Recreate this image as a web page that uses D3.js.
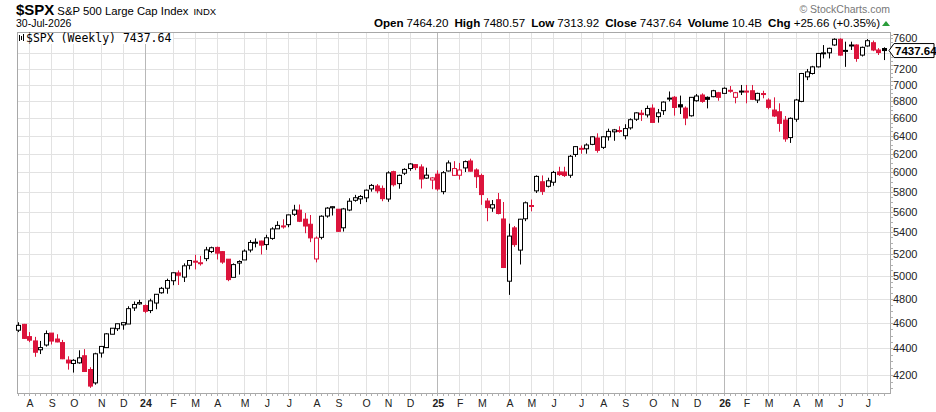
<!DOCTYPE html>
<html>
<head>
<meta charset="utf-8">
<script src="https://cdn.jsdelivr.net/npm/d3@7"></script>
<style>
  html, body { margin: 0; padding: 0; background: #fff; }
  svg { display: block; font-family: "Liberation Sans", Arial, sans-serif; }
</style>
</head>
<body>
<svg id="svg" width="936" height="412"></svg>
<script>
// weekly bars, Monday of each week, 24-Jul-2023 .. 27-Jul-2026
var weeks = d3.timeMonday.range(new Date(2023, 6, 24), new Date(2026, 6, 28));

var opens = [
  4543, 4590, 4492, 4458, 4389, 4426, 4520, 4473, 4445, 4310, 4284, 4289, 4343, 4239, 4140, 4364,
  4406, 4511, 4555, 4586, 4593, 4725, 4759, 4745, 4703, 4766, 4853, 4892, 4957, 5026, 4989, 5094,
  5131, 5111, 5154, 5219, 5257, 5218, 5149, 4987, 5114, 5142, 5233, 5305, 5316, 5283, 5341, 5432,
  5460, 5472, 5573, 5614, 5525, 5476, 5151, 5351, 5556, 5637, 5623, 5442, 5615, 5712, 5726, 5737,
  5828, 5858, 5833, 5725, 6008, 5883, 5992, 6041, 6083, 6058, 5940, 5920, 5982, 5800, 6015, 5969,
  5970, 6048, 6122, 6026, 5968, 5705, 5635, 5718, 5527, 4953, 5441, 5232, 5529, 5655, 5808, 5902,
  5855, 5897, 6005, 6004, 5970, 6193, 6259, 6255, 6304, 6375, 6271, 6389, 6445, 6457, 6401, 6490,
  6590, 6660, 6640, 6720, 6620, 6690, 6830, 6850, 6760, 6720, 6630, 6808, 6877, 6849, 6857, 6905,
  6897, 6935, 6849, 6920, 6925, 6929, 6816, 6895, 6816, 6697, 6677, 6580, 6380, 6590, 6800, 7101,
  7143, 7227, 7395, 7408, 7511, 7587, 7430, 7505, 7511, 7378, 7498, 7541, 7445, 7464.20
];
var highs = [
  4607, 4594, 4528, 4490, 4458, 4541, 4520, 4511, 4466, 4339, 4317, 4385, 4394, 4256, 4366, 4415,
  4520, 4560, 4595, 4609, 4739, 4779, 4793, 4754, 4802, 4842, 4903, 4975, 5030, 5048, 5111, 5140,
  5189, 5179, 5262, 5264, 5264, 5222, 5150, 5111, 5139, 5239, 5325, 5341, 5320, 5375, 5447, 5505,
  5524, 5570, 5667, 5670, 5585, 5566, 5360, 5563, 5644, 5651, 5623, 5636, 5733, 5767, 5765, 5822,
  5879, 5878, 5863, 6012, 6018, 5977, 6044, 6099, 6089, 6086, 6050, 5950, 6022, 6014, 6128, 6120,
  6101, 6127, 6147, 6043, 5987, 5734, 5715, 5786, 5695, 5482, 5459, 5528, 5700, 5720, 5969, 5968,
  5944, 6016, 6060, 6060, 6187, 6284, 6291, 6315, 6395, 6428, 6395, 6481, 6478, 6508, 6532, 6600,
  6671, 6699, 6750, 6765, 6710, 6800, 6920, 6865, 6870, 6740, 6850, 6889, 6897, 6860, 6940, 6915,
  6970, 6987, 6915, 7000, 7000, 7000, 6905, 6929, 6837, 6849, 6777, 6627, 6610, 6830, 7150, 7200,
  7240, 7405, 7510, 7475, 7600, 7600, 7555, 7555, 7520, 7490, 7590, 7570, 7470, 7480.57
];
var lows = [
  4528, 4474, 4448, 4335, 4356, 4414, 4430, 4447, 4317, 4238, 4216, 4283, 4223, 4104, 4127, 4329,
  4406, 4511, 4537, 4547, 4593, 4700, 4751, 4682, 4682, 4714, 4845, 4845, 4918, 4920, 4946, 5057,
  5057, 5091, 5131, 5204, 5146, 5107, 4953, 4987, 5011, 5142, 5211, 5257, 5192, 5234, 5328, 5431,
  5434, 5447, 5557, 5497, 5390, 5306, 5120, 5332, 5540, 5561, 5402, 5406, 5604, 5698, 5674, 5694,
  5800, 5783, 5703, 5697, 5853, 5830, 5972, 6017, 6024, 5832, 5932, 5825, 5809, 5773, 6010, 5962,
  5924, 6004, 6009, 5837, 5667, 5505, 5597, 5572, 5069, 4835, 5262, 5101, 5506, 5602, 5786, 5767,
  5843, 5861, 5963, 5952, 5943, 6167, 6201, 6201, 6295, 6212, 6253, 6346, 6344, 6434, 6360, 6470,
  6570, 6570, 6610, 6550, 6550, 6640, 6800, 6631, 6650, 6521, 6620, 6796, 6784, 6717, 6850, 6808,
  6890, 6905, 6777, 6877, 6777, 6816, 6780, 6837, 6706, 6615, 6446, 6333, 6320, 6560, 6790, 7060,
  7130, 7220, 7335, 7335, 7500, 7370, 7227, 7445, 7292, 7360, 7490, 7430, 7380, 7313.92
];
var closes = [
  4582, 4478, 4464, 4370, 4406, 4516, 4457, 4450, 4320, 4288, 4308, 4327, 4224, 4117, 4358, 4415,
  4514, 4559, 4595, 4604, 4719, 4754, 4770, 4697, 4784, 4840, 4891, 4959, 5027, 5005, 5089, 5137,
  5124, 5117, 5234, 5254, 5204, 5123, 4967, 5100, 5128, 5223, 5303, 5305, 5278, 5347, 5431, 5465,
  5460, 5567, 5615, 5505, 5459, 5346, 5344, 5554, 5634, 5648, 5408, 5626, 5703, 5738, 5751, 5815,
  5864, 5808, 5729, 5995, 5871, 5969, 6032, 6090, 6051, 5931, 5971, 5942, 5827, 5997, 6101, 6041,
  6026, 6115, 6013, 5955, 5770, 5639, 5668, 5581, 5074, 5363, 5283, 5525, 5687, 5660, 5958, 5803,
  5912, 6000, 5977, 5967, 6173, 6279, 6260, 6297, 6389, 6238, 6389, 6450, 6467, 6460, 6482, 6584,
  6664, 6644, 6716, 6553, 6664, 6792, 6840, 6728, 6734, 6603, 6849, 6865, 6800, 6825, 6929, 6849,
  6959, 6929, 6905, 6925, 6915, 6825, 6897, 6885, 6729, 6627, 6542, 6365, 6600, 6817, 7143, 7163,
  7227, 7400, 7408, 7467, 7587, 7378, 7440, 7511, 7335, 7480, 7568, 7445, 7412, 7437.64
];

var yTicks = [4200, 4400, 4600, 4800, 5000, 5200, 5400, 5600, 5800, 6000, 6200, 6400, 6600, 6800, 7000, 7200, 7400, 7600];
var monthLetters = ['J', 'F', 'M', 'A', 'M', 'J', 'J', 'A', 'S', 'O', 'N', 'D'];

var headerItems = [
  ['Open', '7464.20'], ['High', '7480.57'], ['Low', '7313.92'],
  ['Close', '7437.64'], ['Volume', '10.4B'], ['Chg', '+25.66 (+0.35%)']
];

var red = '#dc143c';
var plot = {left: 17, right: 890, top: 32, bottom: 393};

var svg = d3.select('#svg');

var x = d3.scaleLinear()
    .domain([-0.2, weeks.length + 0.1])
    .range([plot.left, plot.right]);
var y = d3.scaleLog()
    .domain([4067, 7685])
    .range([plot.bottom, plot.top]);

// month starts = first weekly bar whose Monday falls in a new month
var monthStarts = [];
weeks.forEach(function(d, i) {
    if (i > 0 && d.getMonth() !== weeks[i - 1].getMonth()) {
        monthStarts.push({i: i, date: d});
    }
});

// grid
var grid = svg.append('g').attr('class', 'grid');
grid.selectAll('line.h')
    .data(yTicks)
    .enter().append('line')
    .attr('x1', plot.left).attr('x2', plot.right)
    .attr('y1', function(d) { return Math.round(y(d)) + 0.5; })
    .attr('y2', function(d) { return Math.round(y(d)) + 0.5; })
    .attr('stroke', '#e2e2e2');
grid.selectAll('line.v')
    .data(monthStarts)
    .enter().append('line')
    .attr('y1', plot.top).attr('y2', plot.bottom)
    .attr('x1', function(d) { return Math.round(x(d.i)) + 0.5; })
    .attr('x2', function(d) { return Math.round(x(d.i)) + 0.5; })
    .attr('stroke', function(d) { return d.date.getMonth() === 0 ? '#b8b8b8' : '#e2e2e2'; });

// frame
svg.append('rect')
    .attr('x', plot.left + 0.5).attr('y', plot.top + 0.5)
    .attr('width', plot.right - plot.left).attr('height', plot.bottom - plot.top)
    .attr('fill', 'none').attr('stroke', '#a8a8a8');

// minor ticks, right axis and bottom axis
var minorY = d3.range(4100, 7700, 50);
svg.append('g').selectAll('line')
    .data(minorY)
    .enter().append('line')
    .attr('x1', plot.right + 0.5).attr('x2', plot.right + 3)
    .attr('y1', function(d) { return Math.round(y(d)) + 0.5; })
    .attr('y2', function(d) { return Math.round(y(d)) + 0.5; })
    .attr('stroke', '#b0b0b0');
svg.append('g').selectAll('line')
    .data(weeks)
    .enter().append('line')
    .attr('x1', function(d, i) { return Math.round(x(i)) + 0.5; })
    .attr('x2', function(d, i) { return Math.round(x(i)) + 0.5; })
    .attr('y1', plot.bottom + 0.5).attr('y2', plot.bottom + 3)
    .attr('stroke', '#b0b0b0');

// candles
var bars = weeks.map(function(d, i) {
    var prev = i > 0 ? closes[i - 1] : opens[i];
    return {
        i: i, o: opens[i], h: highs[i], l: lows[i], c: closes[i],
        color: closes[i] >= prev ? '#000' : red,
        hollow: closes[i] >= opens[i]
    };
});

var candles = svg.append('g').attr('class', 'candles')
    .selectAll('g')
    .data(bars)
    .enter().append('g');

candles.append('line')
    .attr('x1', function(d) { return Math.round(x(d.i)) + 0.5; })
    .attr('x2', function(d) { return Math.round(x(d.i)) + 0.5; })
    .attr('y1', function(d) { return y(d.h); })
    .attr('y2', function(d) { return y(d.l); })
    .attr('stroke', function(d) { return d.color; });

candles.append('rect')
    .attr('x', function(d) { return Math.round(x(d.i)) - 1.5; })
    .attr('width', 4)
    .attr('y', function(d) { return y(Math.max(d.o, d.c)); })
    .attr('height', function(d) { return Math.max(1, Math.abs(y(d.o) - y(d.c))); })
    .attr('fill', function(d) { return d.hollow ? '#fff' : d.color; })
    .attr('stroke', function(d) { return d.color; })
    .attr('stroke-width', 1);

// y labels
svg.append('g').selectAll('text')
    .data(yTicks.filter(function(d) { return d !== 7400; }))
    .enter().append('text')
    .attr('x', plot.right + 3)
    .attr('y', function(d) { return y(d) + 4; })
    .attr('font-size', 11)
    .attr('fill', '#222')
    .text(function(d) { return d; });

// x labels
svg.append('g').selectAll('text')
    .data(monthStarts)
    .enter().append('text')
    .attr('x', function(d) { return x(d.i) + 1; })
    .attr('y', 407)
    .attr('text-anchor', 'middle')
    .attr('font-size', 10.5)
    .attr('font-weight', function(d) { return d.date.getMonth() === 0 ? 'bold' : 'normal'; })
    .attr('fill', '#222')
    .text(function(d) {
        return d.date.getMonth() === 0 ? d3.timeFormat('%y')(d.date) : monthLetters[d.date.getMonth()];
    });

// last price marker
var lastY = y(closes[closes.length - 1]);
svg.append('path')
    .attr('d', 'M' + (plot.right - 1) + ',' + lastY +
        'L' + (plot.right + 4) + ',' + (lastY - 7) +
        'L934,' + (lastY - 7) + 'L934,' + (lastY + 7) +
        'L' + (plot.right + 4) + ',' + (lastY + 7) + 'Z')
    .attr('fill', '#fff').attr('stroke', '#000');
svg.append('text')
    .attr('x', plot.right + 5).attr('y', lastY + 4)
    .attr('font-size', 11.5).attr('font-weight', 'bold')
    .text('7437.64');

// legend inside the plot
svg.append('rect')
    .attr('x', plot.left + 1).attr('y', plot.top + 1)
    .attr('width', 155).attr('height', 11)
    .attr('fill', '#fff');
var icon = svg.append('g').attr('stroke', '#000').attr('stroke-width', 1);
[[19.5, 35, 41], [21.5, 36, 40], [23.5, 34, 41]].forEach(function(s) {
    icon.append('line').attr('x1', s[0]).attr('x2', s[0]).attr('y1', s[1]).attr('y2', s[2]);
});
svg.append('text')
    .attr('x', 26).attr('y', 42)
    .attr('font-family', '"DejaVu Sans Mono", monospace')
    .attr('font-size', 11.5)
    .attr('fill', '#000')
    .text('$SPX (Weekly) 7437.64');

// title block
var title = svg.append('text').attr('x', 16).attr('y', 15);
title.append('tspan').attr('font-size', 15).attr('font-weight', 'bold').text('$SPX');
title.append('tspan').attr('font-size', 11.3).attr('dx', 3).text('S&P 500 Large Cap Index');
title.append('tspan').attr('font-size', 9.5).attr('dx', 5).text('INDX');

svg.append('text')
    .attr('x', 16).attr('y', 27)
    .attr('font-size', 10.5)
    .text('30-Jul-2026');

svg.append('text')
    .attr('x', 890).attr('y', 13)
    .attr('text-anchor', 'end')
    .attr('font-size', 10.5)
    .attr('fill', '#777')
    .text('\u00a9 StockCharts.com');

var header = svg.append('text')
    .attr('x', 880).attr('y', 27)
    .attr('text-anchor', 'end')
    .attr('font-size', 11.6);
headerItems.forEach(function(item, k) {
    header.append('tspan').attr('font-weight', 'bold').attr('dx', k === 0 ? 0 : 6).text(item[0]);
    header.append('tspan').attr('dx', 3).text(item[1]);
});
svg.append('path')
    .attr('d', 'M882,26L886,21L890,26Z')
    .attr('fill', '#2a9d3a');
</script>
</body>
</html>
